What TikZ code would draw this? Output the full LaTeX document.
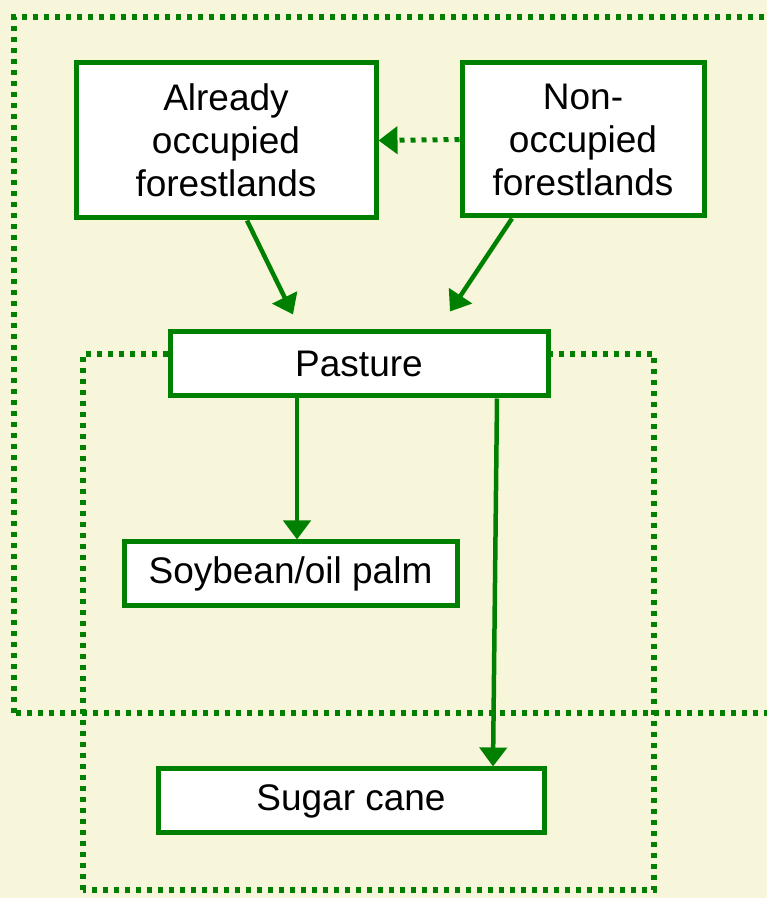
\documentclass[tikz,border=0pt]{standalone}
\usepackage{fontspec}
\setmainfont{Liberation Sans}
\usetikzlibrary{arrows.meta}
\definecolor{bgyellow}{RGB}{248,246,218}
\definecolor{leafgreen}{RGB}{0,128,0}

\begin{document}
\begin{tikzpicture}[x=1pt,y=1pt,
	landbox/.style={draw=leafgreen,fill=white,line width=5pt,inner sep=0pt,
		align=center,font=\fontsize{37}{43}\selectfont},
	flow/.style={draw=leafgreen,line width=4.5pt,-{Triangle[width=27pt,length=19pt]}},
	dots/.style={draw=leafgreen,line width=5.5pt,dash pattern=on 5pt off 6pt}]
	\fill[bgyellow] (0,0) rectangle (767,898);
	\clip (0,0) rectangle (767,898);
	\draw[dots] (14,185) rectangle (790,881);%outer frame
	\draw[dots] (83,8) rectangle (654,544);%inner frame

	\node[landbox,minimum width=300pt,minimum height=155pt] (already) at (226,757.5)
		{Already\\occupied\\forestlands};
	\node[landbox,minimum width=242pt,minimum height=153pt] (nonocc) at (583,758.5)
		{Non-\\occupied\\forestlands};
	\node[landbox,minimum width=378pt,minimum height=64pt] (pasture) at (359,534) {Pasture};
	\node[landbox,minimum width=333pt,minimum height=64pt] (soy) at (290.5,324) {Soybean/oil palm};
	\node[landbox,minimum width=386pt,minimum height=64pt] (sugar) at (351,97) {Sugar cane};

	\draw[flow,dash pattern=on 5pt off 6pt,line width=5pt] (nonocc.west) -- (already.east);
	\draw[flow] ([xshift=21pt]already.south) -- ([xshift=-66pt,yshift=15pt]pasture.north);
	\draw[flow] ([xshift=-71pt]nonocc.south) -- ([xshift=91pt,yshift=18pt]pasture.north);
	\draw[flow] ([xshift=-62pt]pasture.south) -- ([xshift=6.5pt]soy.north);
	\draw[flow] ([xshift=138pt]pasture.south) -- ([xshift=142pt]sugar.north);
\end{tikzpicture}
\end{document}
